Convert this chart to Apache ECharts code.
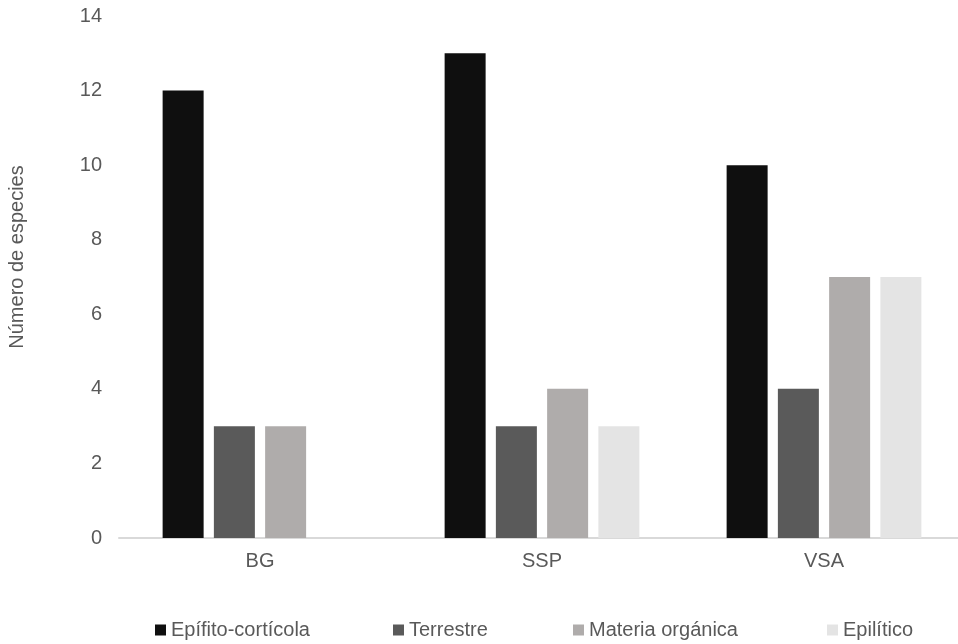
<!DOCTYPE html>
<html>
<head>
<meta charset="utf-8">
<script src="https://cdn.jsdelivr.net/npm/echarts@6/dist/echarts.min.js"></script>
<style>
html,body{margin:0;padding:0;background:#fff;}
#c{width:958px;height:644px;}
</style>
</head>
<body>
<div id="c"></div>
<script>
var categories = ['BG', 'SSP', 'VSA'];
var seriesNames = ['Epífito-cortícola', 'Terrestre', 'Materia orgánica', 'Epilítico'];
var epifito = [12, 13, 10];
var terrestre = [3, 3, 4];
var materia = [3, 4, 7];
var epilitico = [0, 3, 7];
var yTicks = { min: 0, max: 14, interval: 2 };
var yTitle = 'Número de especies';

var values = [epifito, terrestre, materia, epilitico];
var colors = ['#0f0f0f', '#5a5a5a', '#afacab', '#e4e4e4'];
var legendLefts = [155, 393, 573, 827];
var textColor = '#595959';
var font = 'Liberation Sans, Arial, sans-serif';

var chart = echarts.init(document.getElementById('c'), null, { renderer: 'canvas' });

var series = seriesNames.map(function (n, i) {
  return {
    name: n,
    type: 'bar',
    data: values[i],
    barWidth: 41,
    barGap: '25%',
    itemStyle: { color: colors[i] }
  };
});

var legends = seriesNames.map(function (n, i) {
  return {
    data: [n],
    left: legendLefts[i],
    top: 620,
    itemWidth: 11,
    itemHeight: 11,
    icon: 'rect',
    padding: 0,
    textStyle: { color: textColor, fontSize: 20, fontFamily: font }
  };
});

chart.setOption({
  backgroundColor: '#fff',
  animation: false,
  textStyle: { fontFamily: font },
  legend: legends,
  grid: { left: 119, top: 16, width: 846, bottom: 106, containLabel: false, outerBoundsMode: 'none' },
  xAxis: {
    type: 'category',
    data: categories,
    axisLine: { show: true, lineStyle: { color: '#d9d9d9', width: 2 } },
    axisTick: { show: false },
    axisLabel: { color: textColor, fontSize: 20, fontFamily: font, margin: 13 }
  },
  yAxis: {
    type: 'value',
    min: yTicks.min,
    max: yTicks.max,
    interval: yTicks.interval,
    name: yTitle,
    nameLocation: 'middle',
    nameGap: 92,
    nameRotate: 90,
    nameTextStyle: { color: textColor, fontSize: 20, fontFamily: font, padding: [0, 0, 0, 40] },
    axisLine: { show: false },
    axisTick: { show: false },
    splitLine: { show: false },
    axisLabel: { color: textColor, fontSize: 20, fontFamily: font, margin: 17 }
  },
  series: series
});
</script>
</body>
</html>
